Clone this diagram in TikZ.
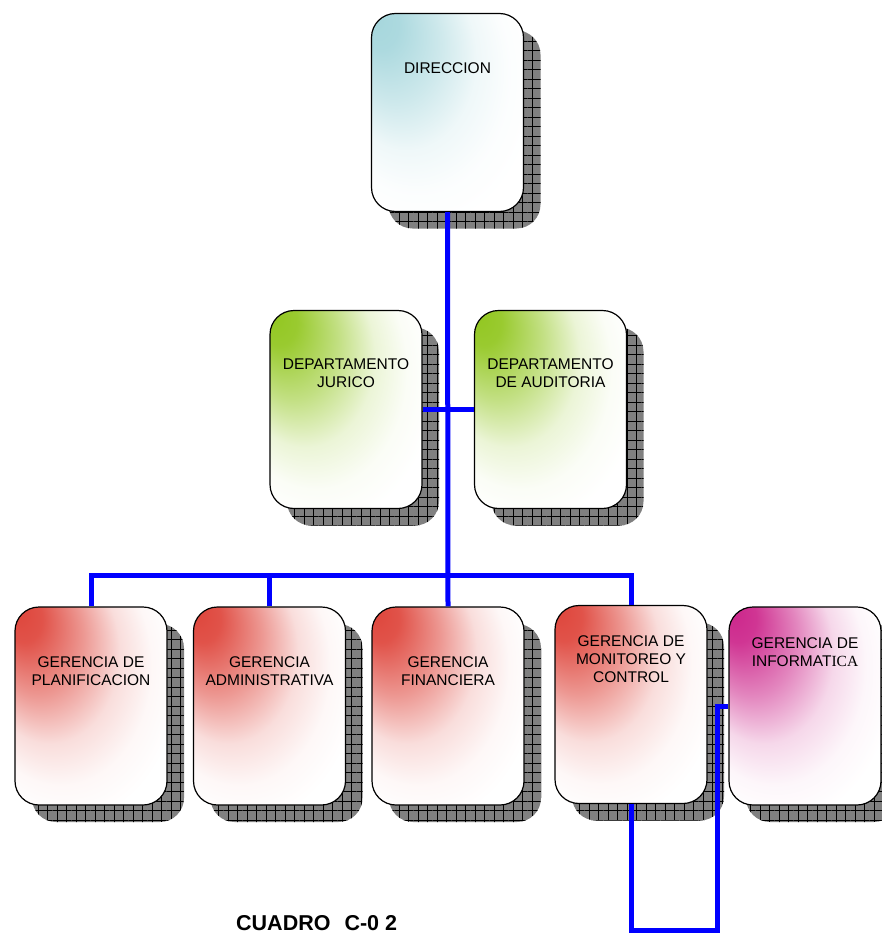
\documentclass[tikz,border=0pt]{standalone}
\usepackage{fontspec}
\setmainfont{Liberation Sans}
\newfontfamily\serifpart{Liberation Serif}
\usepackage{xcolor}
\usetikzlibrary{shadows,patterns.meta,positioning,calc}

\definecolor{dircolor}{RGB}{165,214,220}
\definecolor{deptcolor}{RGB}{145,198,30}
\definecolor{gercolor}{RGB}{222,68,58}
\definecolor{infocolor}{RGB}{204,36,138}

% corner gradients, strongest in the upper left corner
\newcommand{\cornershading}[2]{%
  \pgfdeclareradialshading{#1}{\pgfpoint{-25bp}{25bp}}{%
    color(0bp)=(#2); color(6bp)=(#2!92!white); color(15bp)=(#2!55!white);
    color(23bp)=(#2!18!white); color(30bp)=(#2!4!white);
    color(36bp)=(white); color(50bp)=(white)}}
\cornershading{dir shade}{dircolor}
\cornershading{dept shade}{deptcolor}
\cornershading{ger shade}{gercolor}
\cornershading{info shade}{infocolor}

\begin{document}
\begin{tikzpicture}[x=1pt, y=-1pt,
    org box/.style={draw=black, line width=1.2pt, rounded corners=24pt,
      minimum width=152pt, minimum height=198pt, inner sep=0pt,
      general shadow={shadow xshift=17pt, shadow yshift=-17pt, fill=gray,
        postaction={pattern={Hatch[angle=0, distance=9.5pt, line width=0.7pt]}, pattern color=black}}},
    org text/.style={font=\fontsize{15.5}{18}\selectfont, align=center, inner sep=0pt, anchor=north},
    org line/.style={draw=blue, line width=5pt},
    caption/.style={font=\fontsize{21.5}{24}\selectfont\bfseries, inner sep=0pt}]
    \useasboundingbox (0,0) rectangle (882,934);

    \node[org box, shading=dir shade] (dir) at (447.5,112.5)
      {} node[org text] at ([yshift=-50pt]dir.north) {DIRECCION};

    \node[org box, shading=dept shade] (jur) at (346,409.5)
      {} node[org text] at ([yshift=-49pt]jur.north) {DEPARTAMENTO\\JURICO};
    \node[org box, shading=dept shade] (aud) at (550.5,409.5)
      {} node[org text] at ([yshift=-49pt]aud.north) {DEPARTAMENTO\\DE AUDITORIA};

    \node[org box, shading=ger shade] (plan) at (91,706)
      {} node[org text] at ([yshift=-50pt]plan.north) {GERENCIA DE\\PLANIFICACION};
    \node[org box, shading=ger shade] (admin) at (269.5,706)
      {} node[org text] at ([yshift=-50pt]admin.north) {GERENCIA\\ADMINISTRATIVA};
    \node[org box, shading=ger shade] (fin) at (448,706)
      {} node[org text] at ([yshift=-50pt]fin.north) {GERENCIA\\FINANCIERA};
    \node[org box, shading=ger shade] (monit) at (631,704.5)
      {} node[org text] at ([yshift=-31pt]monit.north) {GERENCIA DE\\MONITOREO Y\\CONTROL};
    \node[org box, shading=info shade] (info) at (805,706)
      {} node[org text] at ([yshift=-31pt]info.north) {GERENCIA DE\\INFORMAT{\serifpart ICA}};

    \coordinate (bus) at (448,575);
    \coordinate (loop) at (717,930);

    \draw[org line] (dir.south) -- (fin.north);
    \draw[org line] (jur.east) -- (aud.west);
    \draw[org line] (plan.north) |- (bus) -| (monit.north);
    \draw[org line] (admin.north) -- (admin.north |- bus);
    \draw[org line] (monit.south) |- (loop) |- (info.west);

    \node[caption, anchor=base west] (cuadro) at (236,930) {CUADRO\hspace{14pt}C-0 2};
\end{tikzpicture}
\end{document}
